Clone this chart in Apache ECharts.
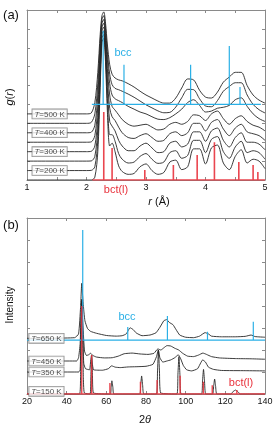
<!DOCTYPE html>
<html><head><meta charset="utf-8">
<script src="https://cdn.jsdelivr.net/npm/echarts@6/dist/echarts.min.js"></script>
<style>html,body{margin:0;padding:0;background:#fff}#c{width:275px;height:429px}</style>
</head><body><div id="c"></div>
<script>
// ---------- Panel (a): g(r) ----------
const rGrid = [1.0, 2.0, 2.08, 2.14, 2.19, 2.23, 2.26, 2.29, 2.32, 2.35, 2.39, 2.43, 2.48, 2.54, 2.6, 2.7, 2.8, 2.9, 3.0, 3.1, 3.2, 3.3, 3.4, 3.5, 3.6, 3.7, 3.8, 3.9, 4.0, 4.1, 4.2, 4.3, 4.4, 4.5, 4.6, 4.7, 4.8, 4.9, 5.0];
const g500 = [0, 0, 0.05, 0.6, 2.2, 4.2, 5.2, 5.4, 4.8, 3.7, 2.6, 2.1, 1.9, 1.8, 1.75, 1.6, 1.42, 1.2, 1.0, 0.84, 0.68, 0.57, 0.57, 0.84, 1.37, 1.85, 1.8, 1.25, 0.89, 0.84, 1.15, 1.68, 1.95, 2.2, 2.2, 1.5, 1.0, 0.73, 0.57];
const g450 = [0, 0, 0.05, 0.5, 2.1, 4.3, 5.5, 5.7, 5.0, 3.8, 2.6, 2.05, 1.85, 1.78, 1.7, 1.55, 1.38, 1.18, 0.98, 0.82, 0.66, 0.56, 0.58, 0.86, 1.35, 1.8, 1.78, 1.3, 0.92, 0.88, 1.2, 1.7, 1.95, 2.15, 2.15, 1.5, 1.0, 0.72, 0.55];
const g400 = [0, 0, 0.03, 0.4, 2.0, 4.4, 5.8, 6.0, 5.2, 3.9, 2.6, 2.0, 1.8, 1.7, 1.6, 1.4, 1.25, 1.1, 1.0, 0.85, 0.72, 0.7, 0.8, 1.0, 1.25, 1.6, 1.75, 1.45, 1.1, 1.15, 1.3, 1.35, 1.45, 1.75, 1.85, 1.4, 1.0, 0.75, 0.6];
const g350 = [0, 0, 0.02, 0.35, 1.9, 4.5, 6.1, 6.3, 5.4, 3.9, 2.5, 1.9, 1.7, 1.45, 1.2, 0.95, 0.85, 0.9, 0.95, 0.8, 0.65, 0.7, 0.95, 1.05, 0.95, 1.1, 1.45, 1.4, 1.15, 1.5, 1.65, 1.25, 0.95, 1.25, 1.4, 1.1, 0.9, 0.8, 0.6];
const g300 = [0, 0, 0.02, 0.3, 1.8, 4.6, 6.4, 6.6, 5.6, 3.9, 2.3, 1.85, 1.65, 1.3, 1.0, 0.75, 0.7, 0.85, 0.95, 0.75, 0.55, 0.6, 0.95, 1.05, 0.85, 1.0, 1.5, 1.5, 1.1, 1.55, 1.7, 1.2, 0.85, 1.25, 1.45, 1.05, 0.95, 0.85, 0.6];
const g250 = [0, 0, 0.01, 0.25, 1.7, 4.7, 6.7, 6.9, 5.8, 3.9, 2.1, 1.85, 1.6, 1.1, 0.8, 0.55, 0.55, 0.8, 0.95, 0.7, 0.45, 0.5, 0.95, 1.05, 0.75, 0.9, 1.55, 1.55, 1.05, 1.6, 1.75, 1.1, 0.75, 1.25, 1.5, 1.0, 1.0, 0.9, 0.6];
const g200 = [0, 0, 0.01, 0.2, 1.6, 4.8, 7.0, 7.2, 6.0, 3.8, 1.9, 1.9, 1.55, 0.9, 0.6, 0.4, 0.45, 0.75, 0.9, 0.6, 0.38, 0.45, 0.95, 1.05, 0.65, 0.8, 1.6, 1.6, 0.95, 1.65, 1.8, 1.0, 0.65, 1.25, 1.55, 0.95, 1.05, 0.95, 0.6];
const g150 = [0, 0, 0.0, 0.15, 1.5, 4.9, 7.3, 7.5, 6.2, 3.7, 1.8, 1.95, 1.5, 0.75, 0.45, 0.3, 0.35, 0.7, 0.85, 0.5, 0.3, 0.4, 0.95, 1.05, 0.55, 0.7, 1.65, 1.65, 0.85, 1.7, 1.85, 0.9, 0.55, 1.25, 1.6, 0.9, 1.1, 1.0, 0.6];
const tempsA = [150, 200, 250, 300, 350, 400, 450, 500];
const curvesA = [g150, g200, g250, g300, g350, g400, g450, g500];
const offsetsA = [0, 0.5, 1.0, 1.5, 2.0, 2.5, 3.0, 3.5];
const labelledA = [200, 300, 400, 500];
const bccOffsetA = 4.0;
const bccRangeA = [2.09, 4.93];
const bccPosA = [2.28, 2.63, 3.75, 4.40, 4.58];
const bccHtA = [3.9, 2.1, 2.1, 3.1, 0.92];
const bctRangeA = [2.1, 5.0];
const bctPosA = [2.29, 2.43, 2.98, 3.46, 3.86, 4.15, 4.56, 4.80, 4.88];
const bctHtA = [3.6, 1.7, 0.53, 0.8, 1.32, 2.0, 0.95, 0.8, 0.42];
const rTicks = [1, 2, 3, 4, 5];

// ---------- Panel (b): XRD ----------
const xrd150 = [[20,0],[46.5,0],[47.0,0.8],[47.4,3.5],[47.7,4.3],[48.0,3.0],[48.4,0.8],[48.9,0.05],[51.8,0],[52.2,0.8],[52.6,1.77],[53.0,0.9],[53.5,0.05],[62.0,0],[62.4,0.3],[62.8,0.6],[63.3,0.3],[63.8,0],[76.8,0],[77.3,0.4],[77.8,0.82],[78.3,0.4],[78.9,0],[85.3,0],[85.8,1.0],[86.3,2.0],[86.8,1.0],[87.4,0.05],[95.6,0],[96.1,0.9],[96.6,1.7],[97.1,0.9],[97.7,0],[108.0,0],[108.5,0.6],[109.0,1.12],[109.5,0.6],[110.1,0],[113.6,0],[114.1,0.35],[114.6,0.68],[115.1,0.35],[115.7,0],[122.8,0],[124.0,0.12],[125.2,0.18],[126.4,0.1],[127.5,0],[140,0]];
const xrd350 = [[20,0],[46,0],[46.8,0.1],[47.3,2.0],[47.7,3.3],[48.1,2.0],[48.6,0.4],[49.5,0.15],[51.5,0.1],[52.1,0.5],[52.5,0.75],[52.9,0.4],[53.6,0.1],[58,0.08],[61,0.15],[62.7,0.28],[64.5,0.22],[67,0.2],[71,0.23],[75,0.24],[80,0.26],[83.5,0.35],[85.3,0.7],[86.2,1.0],[87.0,0.65],[88.5,0.45],[90.5,0.5],[92.5,0.55],[94.5,0.65],[96.3,0.78],[97.5,0.6],[98.8,0.3],[100.5,0.1],[103,0.05],[106,0.15],[108.6,0.55],[110,0.45],[111.5,0.22],[114,0.12],[118,0.07],[130,0.06],[140,0.05]];
const xrd450 = [[20,0],[45,0],[46,0.15],[46.8,0.8],[47.5,2.7],[48.2,1.6],[49,0.45],[50,0.25],[51,0.28],[52.1,0.35],[53.2,0.25],[55,0.18],[59,0.14],[63,0.15],[66,0.22],[69,0.33],[73,0.36],[77,0.32],[81,0.3],[84,0.35],[86,0.55],[87.5,0.5],[89,0.6],[90.6,0.7],[92.5,0.68],[94.5,0.58],[96.5,0.5],[98.5,0.35],[101,0.22],[104,0.2],[106.5,0.27],[108.7,0.36],[110.5,0.3],[113,0.2],[117,0.14],[125,0.11],[133,0.1],[140,0.08]];
const xrd650 = [[20,0],[44,0.03],[46,0.2],[47,1.4],[47.6,2.5],[48.3,1.6],[49.2,0.8],[50.5,0.45],[52,0.32],[55,0.23],[60,0.13],[65,0.1],[68,0.12],[70,0.2],[72,0.48],[73.5,0.4],[75,0.25],[78,0.12],[82,0.15],[85,0.25],[87,0.5],[89,0.8],[90.4,0.85],[91.8,0.72],[93.6,0.62],[95,0.42],[97,0.15],[100,0.05],[104,0.03],[107,0.1],[109.8,0.26],[111.5,0.2],[113,0.1],[118,0.07],[125,0.07],[130,0.09],[133,0.15],[135,0.08],[140,0.05]];
const tempsB = [150, 350, 450, 650];
const curvesB = [xrd150, xrd350, xrd450, xrd650];
const offsetsB = [0, 1.0, 1.5, 2.53];
const bccOffsetB = 2.45;
const bccRangeB = [20, 140];
const bccPosB = [48.1, 70.8, 90.8, 111.0, 134.1];
const bccHtB = [5.0, 0.6, 1.09, 0.38, 0.83];
const bctRangeB = [20, 140];
const bctPosB = [47.6, 52.6, 61.8, 77.2, 85.6, 97.2, 108.9, 113.4, 125.8];
const bctHtB = [4.0, 1.77, 0.5, 0.56, 0.64, 0.83, 0.56, 0.4, 0.18];
const tthTicks = [20, 40, 60, 80, 100, 120, 140];

// ---------- build ----------
const FONT = 'Liberation Sans, Arial, sans-serif';
const AX = '#8a8a8a';
const CYAN = '#2bb0e6';
const RED = '#e8323c';
const BLACK = '#262626';

function sticks(pos, ht, base, range) {
  const d = [[range[0], base]];
  pos.forEach((p, i) => { d.push([p, base], [p, base + ht[i]], [p, base]); });
  d.push([range[1], base]);
  return d;
}
function xAx(gi, min, max, interval, pos, show, fmt) {
  return {
    gridIndex: gi, type: 'value', min, max, interval, position: pos,
    axisLine: { show: true, onZero: false, lineStyle: { color: AX, width: 1 } },
    axisTick: { show: true, inside: true, length: 3, lineStyle: { color: AX } },
    splitLine: { show: false },
    axisLabel: { show: show, margin: 3, fontSize: 9, color: '#111', fontFamily: FONT, formatter: fmt }
  };
}
function yAx(gi, min, max, pos) {
  return {
    gridIndex: gi, type: 'value', min, max, interval: 1, position: pos,
    axisLine: { show: true, onZero: false, lineStyle: { color: AX, width: 1 } },
    axisTick: { show: true, inside: true, length: 3, lineStyle: { color: AX } },
    splitLine: { show: false }, axisLabel: { show: false }
  };
}
const labelStyle = {
  show: true, position: 'inside', backgroundColor: '#fff', borderColor: '#777', borderWidth: 0.8,
  padding: [1, 2, 0, 2], color: '#222', fontSize: 8, fontFamily: FONT,
  rich: { i: { fontStyle: 'italic', fontSize: 8, fontFamily: FONT, color: '#222' },
          n: { fontSize: 8, fontFamily: FONT, color: '#222' } },
  formatter: p => '{i|T}{n|=' + p.value[2] + ' K}'
};

const series = [];
curvesA.forEach((g, k) => {
  series.push({ type: 'line', xAxisIndex: 0, yAxisIndex: 0, symbol: 'none', smooth: 0.3, z: 2,
    lineStyle: { color: BLACK, width: 0.9 }, data: rGrid.map((r, i) => [r, g[i] + offsetsA[k]]) });
});
series.push({ type: 'line', xAxisIndex: 0, yAxisIndex: 0, symbol: 'none', z: 4,
  lineStyle: { color: CYAN, width: 1.2 }, data: sticks(bccPosA, bccHtA, bccOffsetA, bccRangeA) });
series.push({ type: 'line', xAxisIndex: 0, yAxisIndex: 0, symbol: 'none', z: 4,
  lineStyle: { color: RED, width: 1.6, opacity: 0.9 }, data: sticks(bctPosA, bctHtA, 0, bctRangeA) });
series.push({ type: 'scatter', xAxisIndex: 0, yAxisIndex: 0, symbolSize: 0, z: 10, silent: true,
  label: labelStyle,
  data: labelledA.map(t => [1.38, offsetsA[tempsA.indexOf(t)], t]) });

curvesB.forEach((c, k) => {
  series.push({ type: 'line', xAxisIndex: 2, yAxisIndex: 2, symbol: 'none', smooth: 0.15, z: 2,
    lineStyle: { color: BLACK, width: 0.9 }, data: c.map(p => [p[0], p[1] + offsetsB[k]]) });
});
series.push({ type: 'line', xAxisIndex: 2, yAxisIndex: 2, symbol: 'none', z: 4,
  lineStyle: { color: CYAN, width: 1.2 }, data: sticks(bccPosB, bccHtB, bccOffsetB, bccRangeB) });
series.push({ type: 'line', xAxisIndex: 2, yAxisIndex: 2, symbol: 'none', z: 4,
  lineStyle: { color: RED, width: 1.4, opacity: 0.9 }, data: sticks(bctPosB, bctHtB, 0, bctRangeB) });
series.push({ type: 'scatter', xAxisIndex: 2, yAxisIndex: 2, symbolSize: 0, z: 10, silent: true,
  label: labelStyle,
  data: tempsB.map((t, k) => [29.8, offsetsB[k] + (k === 0 ? 0.12 : 0), t]) });

const txt = (x, y, text, size, color, extra) => Object.assign({
  type: 'text', x, y, z: 20,
  style: Object.assign({ text, fontSize: size, fill: color, fontFamily: FONT, align: 'center', verticalAlign: 'middle' }, extra || {})
}, {});

const option = {
  animation: false,
  grid: [
    { left: 27, top: 10, width: 238, height: 170, containLabel: false, outerBoundsMode: 'none' },
    { left: 27, top: 218, width: 238, height: 176, containLabel: false, outerBoundsMode: 'none' }
  ],
  xAxis: [
    xAx(0, 1, 5, 0.5, 'bottom', true, v => (rTicks.indexOf(v) >= 0 ? String(v) : '')),
    xAx(0, 1, 5, 0.5, 'top', false),
    xAx(1, 20, 140, 20, 'bottom', true, v => (tthTicks.indexOf(v) >= 0 ? String(v) : '')),
    xAx(1, 20, 140, 20, 'top', false)
  ],
  yAxis: [ yAx(0, 0, 9, 'left'), yAx(0, 0, 9, 'right'), yAx(1, 0, 8, 'left'), yAx(1, 0, 8, 'right') ],
  series,
  graphic: [
    txt(11, 15, '(a)', 13, '#111'),
    txt(11, 225, '(b)', 13, '#111'),
    { type: 'text', x: 10, y: 97, rotation: Math.PI / 2, z: 20,
      style: { text: '{i|g}{n|(}{i|r}{n|)}', align: 'center', verticalAlign: 'middle',
        rich: { i: { fontStyle: 'italic', fontSize: 11, fontFamily: FONT, fill: '#111' },
                n: { fontSize: 11, fontFamily: FONT, fill: '#111' } } } },
    { type: 'text', x: 10, y: 305, rotation: Math.PI / 2, z: 20,
      style: { text: 'Intensity', fontSize: 10, fontFamily: FONT, fill: '#111', align: 'center', verticalAlign: 'middle' } },
    { type: 'text', x: 159, y: 202, z: 20,
      style: { text: '{i|r}{n| (Å)}', align: 'center', verticalAlign: 'middle',
        rich: { i: { fontStyle: 'italic', fontSize: 11, fontFamily: FONT, fill: '#111' },
                n: { fontSize: 11, fontFamily: FONT, fill: '#111' } } } },
    { type: 'text', x: 145, y: 420, z: 20,
      style: { text: '{n|2}{i|θ}', align: 'center', verticalAlign: 'middle',
        rich: { i: { fontStyle: 'italic', fontSize: 11, fontFamily: FONT, fill: '#111' },
                n: { fontSize: 11, fontFamily: FONT, fill: '#111' } } } },
    txt(123, 53, 'bcc', 11, CYAN),
    txt(116, 190, 'bct(l)', 11, RED),
    txt(127, 317, 'bcc', 11, CYAN),
    txt(241, 383, 'bct(l)', 11, RED)
  ]
};
const chart = echarts.init(document.getElementById('c'), null, { renderer: 'canvas' });
chart.setOption(option);
</script></body></html>
